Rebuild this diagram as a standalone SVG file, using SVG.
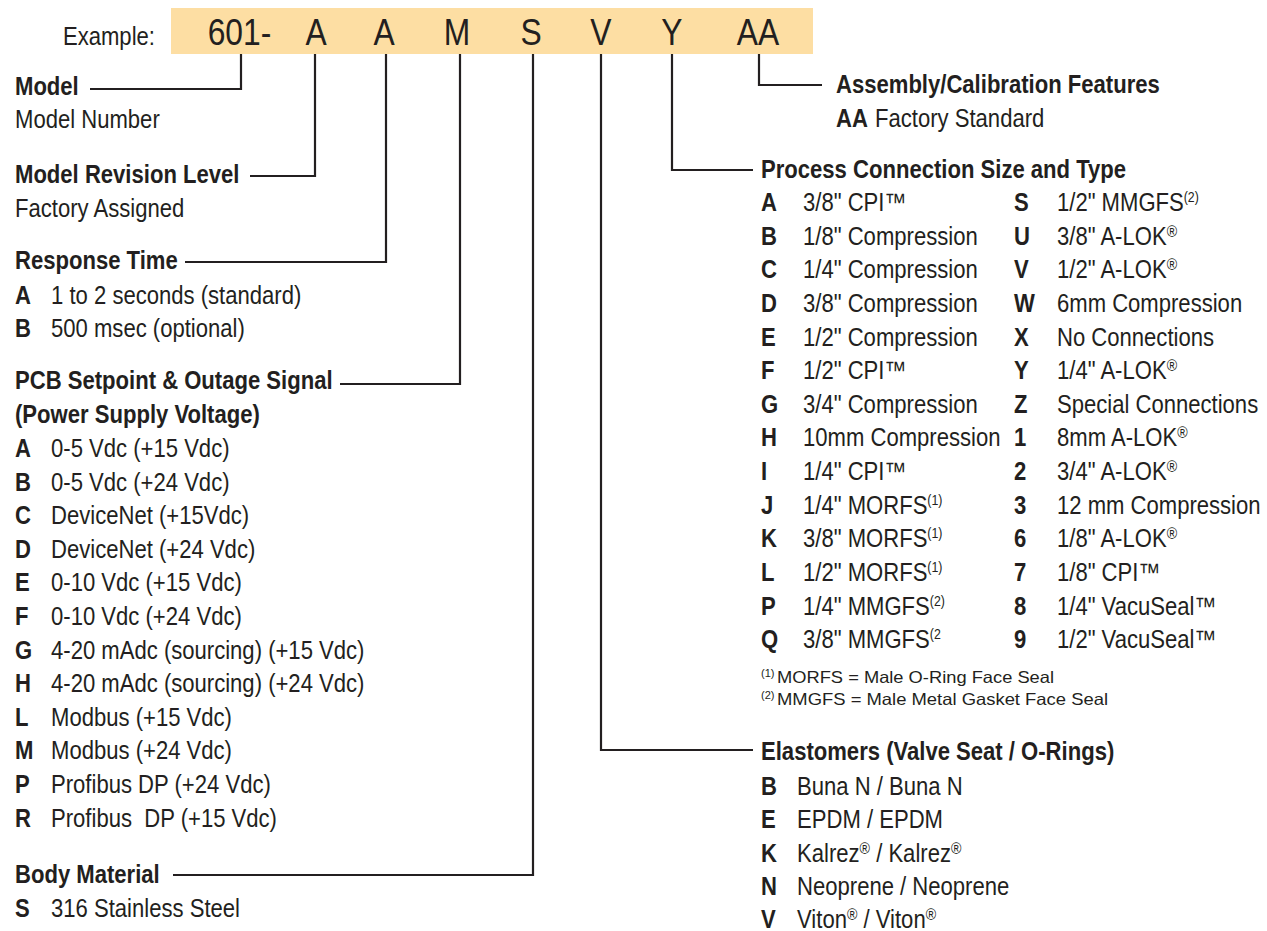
<svg xmlns="http://www.w3.org/2000/svg" width="1267" height="931" viewBox="0 0 1267 931">
<style>
text{font-family:"Liberation Sans",Arial,sans-serif;fill:#231f20;font-size:25px}
.b{font-weight:bold}
.h{font-size:36px}
.fn{font-size:16.5px}
.fs{font-size:11px}
.fi{font-size:14px}
.sup{font-size:16px}
.c{fill:none;stroke:#231f20;stroke-width:2.2}
</style>
<rect x="0" y="0" width="1267" height="931" fill="#ffffff"/>
<g id="header">
<rect x="171" y="8" width="642" height="46" fill="#fddea3"/>
<g transform="scale(0.883 1)">
<text x="71.3" y="45">Example:</text>
<g text-anchor="middle">
<text class="h" x="271.2" y="45">601-</text>
<text class="h" x="357.9" y="45">A</text>
<text class="h" x="434.9" y="45">A</text>
<text class="h" x="517.6" y="45">M</text>
<text class="h" x="601.4" y="45">S</text>
<text class="h" x="680.6" y="45">V</text>
<text class="h" x="761" y="45">Y</text>
<text class="h" x="858.4" y="45">AA</text>
</g>
</g>
</g>
<g id="connectors">
<path class="c" d="M241 54V89H90"/>
<path class="c" d="M315 54V176H250"/>
<path class="c" d="M386 54V262H185"/>
<path class="c" d="M460 54V384H340"/>
<path class="c" d="M533 54V875H173"/>
<path class="c" d="M601 54V750H753"/>
<path class="c" d="M672 54V170H753"/>
<path class="c" d="M759 54V85H822"/>
</g>
<g transform="translate(15 0) scale(0.883 1)">
<g id="model">
<text class="b" x="0" y="95">Model</text>
<text x="0" y="128">Model Number</text>
</g>
<g id="revision">
<text class="b" x="0" y="183">Model Revision Level</text>
<text x="0" y="217">Factory Assigned</text>
</g>
<g id="response">
<text class="b" x="0" y="269">Response Time</text>
<text y="304"><tspan class="b" x="0">A</tspan><tspan x="40.8">1 to 2 seconds (standard)</tspan></text>
<text y="337"><tspan class="b" x="0">B</tspan><tspan x="40.8">500 msec (optional)</tspan></text>
</g>
<g id="pcb">
<text class="b" x="0" y="389">PCB Setpoint &amp; Outage Signal</text>
<text class="b" x="0" y="423">(Power Supply Voltage)</text>
<text y="457"><tspan class="b" x="0">A</tspan><tspan x="40.8">0-5 Vdc (+15 Vdc)</tspan></text>
<text y="491"><tspan class="b" x="0">B</tspan><tspan x="40.8">0-5 Vdc (+24 Vdc)</tspan></text>
<text y="524"><tspan class="b" x="0">C</tspan><tspan x="40.8">DeviceNet (+15Vdc)</tspan></text>
<text y="558"><tspan class="b" x="0">D</tspan><tspan x="40.8">DeviceNet (+24 Vdc)</tspan></text>
<text y="591"><tspan class="b" x="0">E</tspan><tspan x="40.8">0-10 Vdc (+15 Vdc)</tspan></text>
<text y="625"><tspan class="b" x="0">F</tspan><tspan x="40.8">0-10 Vdc (+24 Vdc)</tspan></text>
<text y="659"><tspan class="b" x="0">G</tspan><tspan x="40.8">4-20 mAdc (sourcing) (+15 Vdc)</tspan></text>
<text y="692"><tspan class="b" x="0">H</tspan><tspan x="40.8">4-20 mAdc (sourcing) (+24 Vdc)</tspan></text>
<text y="726"><tspan class="b" x="0">L</tspan><tspan x="40.8">Modbus (+15 Vdc)</tspan></text>
<text y="759"><tspan class="b" x="0">M</tspan><tspan x="40.8">Modbus (+24 Vdc)</tspan></text>
<text y="793"><tspan class="b" x="0">P</tspan><tspan x="40.8">Profibus DP (+24 Vdc)</tspan></text>
<text y="827"><tspan class="b" x="0">R</tspan><tspan x="40.8" xml:space="preserve">Profibus  DP (+15 Vdc)</tspan></text>
</g>
<g id="body">
<text class="b" x="0" y="883">Body Material</text>
<text y="917"><tspan class="b" x="0">S</tspan><tspan x="40.8">316 Stainless Steel</tspan></text>
</g>
</g>
<g id="assembly" transform="translate(836 0) scale(0.883 1)">
<text class="b" x="0" y="93">Assembly/Calibration Features</text>
<text y="127"><tspan class="b" x="0">AA</tspan><tspan x="44.2">Factory Standard</tspan></text>
</g>
<g id="process">
<g transform="translate(761 0) scale(0.883 1)">
<text class="b" x="0" y="178">Process Connection Size and Type</text>
<text y="211"><tspan class="b" x="0">A</tspan><tspan x="47.6">3/8" CPI™</tspan><tspan class="b" x="286.5">S</tspan><tspan x="335.2">1/2" MMGFS</tspan><tspan class="fi" dy="-9">(2)</tspan></text>
<text y="245"><tspan class="b" x="0">B</tspan><tspan x="47.6">1/8" Compression</tspan><tspan class="b" x="286.5">U</tspan><tspan x="335.2">3/8" A-LOK</tspan><tspan class="sup" dy="-8">®</tspan></text>
<text y="278"><tspan class="b" x="0">C</tspan><tspan x="47.6">1/4" Compression</tspan><tspan class="b" x="286.5">V</tspan><tspan x="335.2">1/2" A-LOK</tspan><tspan class="sup" dy="-8">®</tspan></text>
<text y="312"><tspan class="b" x="0">D</tspan><tspan x="47.6">3/8" Compression</tspan><tspan class="b" x="286.5">W</tspan><tspan x="335.2">6mm Compression</tspan></text>
<text y="346"><tspan class="b" x="0">E</tspan><tspan x="47.6">1/2" Compression</tspan><tspan class="b" x="286.5">X</tspan><tspan x="335.2">No Connections</tspan></text>
<text y="379"><tspan class="b" x="0">F</tspan><tspan x="47.6">1/2" CPI™</tspan><tspan class="b" x="286.5">Y</tspan><tspan x="335.2">1/4" A-LOK</tspan><tspan class="sup" dy="-8">®</tspan></text>
<text y="413"><tspan class="b" x="0">G</tspan><tspan x="47.6">3/4" Compression</tspan><tspan class="b" x="286.5">Z</tspan><tspan x="335.2">Special Connections</tspan></text>
<text y="446"><tspan class="b" x="0">H</tspan><tspan x="47.6">10mm Compression</tspan><tspan class="b" x="286.5">1</tspan><tspan x="335.2">8mm A-LOK</tspan><tspan class="sup" dy="-8">®</tspan></text>
<text y="480"><tspan class="b" x="0">I</tspan><tspan x="47.6">1/4" CPI™</tspan><tspan class="b" x="286.5">2</tspan><tspan x="335.2">3/4" A-LOK</tspan><tspan class="sup" dy="-8">®</tspan></text>
<text y="514"><tspan class="b" x="0">J</tspan><tspan x="47.6">1/4" MORFS</tspan><tspan class="fi" dy="-9">(1)</tspan><tspan class="b" x="286.5" dy="9">3</tspan><tspan x="335.2">12 mm Compression</tspan></text>
<text y="547"><tspan class="b" x="0">K</tspan><tspan x="47.6">3/8" MORFS</tspan><tspan class="fi" dy="-9">(1)</tspan><tspan class="b" x="286.5" dy="9">6</tspan><tspan x="335.2">1/8" A-LOK</tspan><tspan class="sup" dy="-8">®</tspan></text>
<text y="581"><tspan class="b" x="0">L</tspan><tspan x="47.6">1/2" MORFS</tspan><tspan class="fi" dy="-9">(1)</tspan><tspan class="b" x="286.5" dy="9">7</tspan><tspan x="335.2">1/8" CPI™</tspan></text>
<text y="615"><tspan class="b" x="0">P</tspan><tspan x="47.6">1/4" MMGFS</tspan><tspan class="fi" dy="-9">(2)</tspan><tspan class="b" x="286.5" dy="9">8</tspan><tspan x="335.2">1/4" VacuSeal™</tspan></text>
<text y="648"><tspan class="b" x="0">Q</tspan><tspan x="47.6">3/8" MMGFS</tspan><tspan class="fi" dy="-9">(2</tspan><tspan class="b" x="286.5" dy="9">9</tspan><tspan x="335.2">1/2" VacuSeal™</tspan></text>
</g>
<text class="fs" x="761" y="677">(1)</text>
<text class="fn" x="777" y="683" textLength="277" lengthAdjust="spacingAndGlyphs">MORFS = Male O-Ring Face Seal</text>
<text class="fs" x="761" y="699">(2)</text>
<text class="fn" x="777" y="705" textLength="331" lengthAdjust="spacingAndGlyphs">MMGFS = Male Metal Gasket Face Seal</text>
</g>
<g id="elastomers" transform="translate(761 0) scale(0.883 1)">
<text class="b" x="0" y="760">Elastomers (Valve Seat / O-Rings)</text>
<text y="795"><tspan class="b" x="0">B</tspan><tspan x="40.8">Buna N / Buna N</tspan></text>
<text y="828"><tspan class="b" x="0">E</tspan><tspan x="40.8">EPDM / EPDM</tspan></text>
<text y="862"><tspan class="b" x="0">K</tspan><tspan x="40.8">Kalrez</tspan><tspan class="sup" dy="-8">®</tspan><tspan dy="8"> / Kalrez</tspan><tspan class="sup" dy="-8">®</tspan></text>
<text y="895"><tspan class="b" x="0">N</tspan><tspan x="40.8">Neoprene / Neoprene</tspan></text>
<text y="928"><tspan class="b" x="0">V</tspan><tspan x="40.8">Viton</tspan><tspan class="sup" dy="-8">®</tspan><tspan dy="8"> / Viton</tspan><tspan class="sup" dy="-8">®</tspan></text>
</g>
</svg>
